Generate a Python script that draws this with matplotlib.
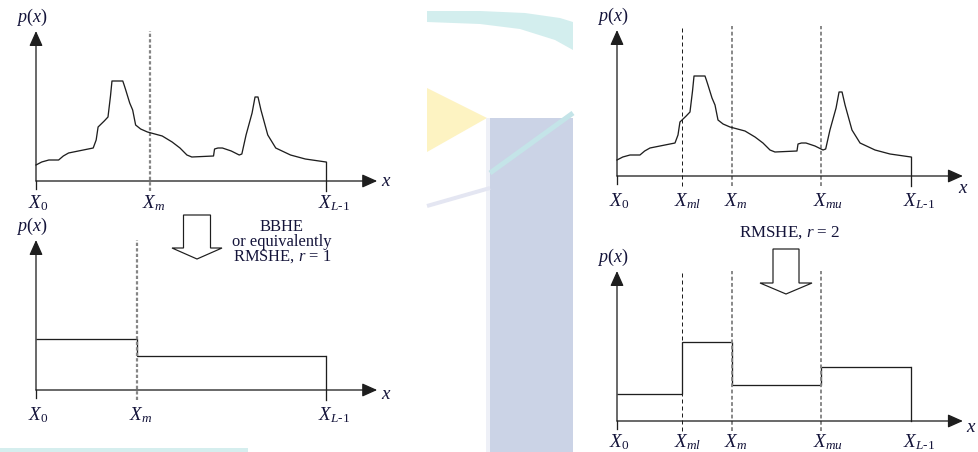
# -*- coding: utf-8 -*-
import numpy as np
import matplotlib
matplotlib.use("Agg")
import matplotlib.pyplot as plt
from matplotlib.patches import Polygon, Rectangle

plt.rcParams['font.family'] = ['Liberation Serif', 'DejaVu Serif']
plt.rcParams['mathtext.fontset'] = 'custom'
plt.rcParams['mathtext.rm'] = 'Liberation Serif'
plt.rcParams['mathtext.it'] = 'Liberation Serif:italic'

# histogram shape (grey level 0..255, height)
hist_x = [0, 5, 11.3, 19.9, 24, 28.6, 41.6, 50.3, 52.9, 54.6, 60, 63.3, 65.5,
          66.8, 76.3, 77.5, 78.9, 82.4, 85.0, 87.6, 92, 98.0, 111.0, 119.7,
          126.6, 132.7, 137.0, 156.1, 157.0, 160, 163.9, 171.7, 178.7, 181,
          184.7, 190.0, 192.6, 195.2, 197.8, 203.8, 210.8, 223.8, 236.8, 255]
hist_p = [16, 19, 21, 21, 25, 28, 31, 33, 41, 54, 60, 64, 85, 100, 100, 96,
          91, 78, 71, 56, 52, 49, 45, 39, 33, 26, 24, 25, 32, 33, 33, 30, 26,
          27, 46, 68, 84, 84, 71, 46, 33, 26, 22, 19]

# split points
x_m = 100
x_ml = 56.4
x_mu = 176.9
x_end = 255

# equalised levels
bbhe_edges = [0, 88.8, 255]
bbhe_levels = [51, 34]
rmshe_edges = [0, x_ml, x_m, x_mu, x_end]
rmshe_levels = [27, 79, 36, 54]

TXT = '#14143a'
LN = '#1e1e1e'
GRAY = '#858585'
W, H = 978, 452

fig = plt.figure(figsize=(W / 72, H / 72), dpi=72)

# faint watermark behind everything
bg = fig.add_axes([0, 0, 1, 1])
bg.set_xlim(0, W)
bg.set_ylim(H, 0)
bg.axis('off')
bg.add_patch(Polygon([(427, 11), (480, 11), (525, 13), (560, 18), (573, 22),
                      (573, 50), (555, 40), (520, 29), (480, 24), (427, 22)],
                     closed=True, fc='#d3eeee', ec='none'))
bg.add_patch(Polygon([(427, 88), (487, 118), (427, 152)], closed=True,
                     fc='#fdf3c2', ec='none'))
bg.add_patch(Rectangle((486, 118), 4, 334, fc='#eef0f7', ec='none'))
bg.add_patch(Rectangle((490, 118), 83, 334, fc='#cbd3e6', ec='none'))
bg.plot([573, 490], [113, 173], color='#c4e4e8', lw=5, solid_capstyle='butt')
bg.plot([427, 490], [206, 188], color='#e4e6f2', lw=4, solid_capstyle='butt')
bg.add_patch(Rectangle((0, 448), 248, 4, fc='#d5eeee', ec='none'))


def panel(x0, y0, wpx, top=150):
    ax = fig.add_axes([x0 / W, (H - y0) / H, wpx / W, 150 / H])
    ax.set_xlim(0, 255)
    ax.set_ylim(0, 150)
    ax.axis('off')
    ax.patch.set_alpha(0)
    ax.plot([0, 0], [-8, 0], color=LN, lw=1.3, clip_on=False)
    for end in [(0, top), (300, 0)]:
        ax.annotate('', xy=end, xytext=(0, 0),
                    arrowprops=dict(arrowstyle='-|>,head_length=0.85,head_width=0.38',
                                    mutation_scale=15, color=LN, lw=1.3,
                                    shrinkA=0, shrinkB=0),
                    annotation_clip=False)
    ax.annotate(r'$p(x)$', xy=(0, top), xytext=(-4, 3), textcoords='offset points',
                ha='center', va='bottom', fontsize=18, color=TXT, annotation_clip=False)
    return ax


def xlabels(ax, pos, names, dy):
    for p, n in zip(pos, names):
        ax.annotate(n, xy=(p, 0), xytext=(-8, dy), textcoords='offset points',
                    ha='left', va='top', fontsize=19, color=TXT, annotation_clip=False)


def xname(ax, dx, dy):
    ax.annotate('x', xy=(300, 0), xytext=(dx, dy), textcoords='offset points',
                ha='left', va='top', fontsize=19, style='italic', color=TXT,
                annotation_clip=False)


def vline(ax, x, col, lw, dash):
    ax.plot([x, x], [-10, 150], color=col, lw=lw, linestyle=(0, dash), clip_on=False)


def hollow_arrow(cx, top, shaft_w, head_w, base, tip):
    pts = [(cx - shaft_w / 2, top), (cx + shaft_w / 2, top), (cx + shaft_w / 2, base),
           (cx + head_w / 2, base), (cx, tip), (cx - head_w / 2, base),
           (cx - shaft_w / 2, base)]
    bg.add_patch(Polygon(pts, closed=True, fc='white', ec=LN, lw=1.2, zorder=3))


X0 = r'$X_{\mathit{0}}$'
XM = r'$X_{\mathit{m}}$'
XL = r'$X_{\mathit{L}\text{-}\mathit{1}}$'
XML = r'$X_{\mathit{ml}}$'
XMU = r'$X_{\mathit{mu}}$'

# top left: original histogram, one split
ax1 = panel(36, 181, 290)
vline(ax1, x_m, GRAY, 2.2, (1.5, 1))
ax1.plot(hist_x, hist_p, color=LN, lw=1.3, clip_on=False)
ax1.plot([x_end, x_end], [-10, hist_p[-1]], color=LN, lw=1.3, clip_on=False)
xlabels(ax1, [0, x_m, x_end], [X0, XM, XL], -12)
xname(ax1, 4, 8)

# bottom left: BBHE result
ax2 = panel(36, 390, 290)
vline(ax2, bbhe_edges[1], GRAY, 2.2, (1.5, 1))
ax2.stairs(bbhe_levels, bbhe_edges, baseline=None, color=LN, lw=1.3, clip_on=False)
ax2.plot([x_end, x_end], [-10, bbhe_levels[-1]], color=LN, lw=1.3, clip_on=False)
xlabels(ax2, bbhe_edges, [X0, XM, XL], -15)
xname(ax2, 4, 4)

# top right: original histogram, r = 2 splits
ax3 = panel(617, 176, 294, top=146)
vline(ax3, x_ml, LN, 1.0, (4, 3))
vline(ax3, x_m, GRAY, 1.9, (2, 1.3))
vline(ax3, x_mu, GRAY, 1.9, (2, 1.3))
ax3.plot(hist_x, hist_p, color=LN, lw=1.3, clip_on=False)
ax3.plot([x_end, x_end], [-10, hist_p[-1]], color=LN, lw=1.3, clip_on=False)
xlabels(ax3, [0, x_ml, x_m, x_mu, x_end], [X0, XML, XM, XMU, XL], -15)
xname(ax3, -5, -4)

# bottom right: RMSHE r = 2 result
ax4 = panel(617, 421, 294)
vline(ax4, x_ml, LN, 1.0, (4, 3))
vline(ax4, x_m, GRAY, 1.9, (2, 1.3))
vline(ax4, x_mu, GRAY, 1.9, (2, 1.3))
ax4.stairs(rmshe_levels, rmshe_edges, baseline=None, color=LN, lw=1.3, clip_on=False)
ax4.plot([x_end, x_end], [0, rmshe_levels[-1]], color=LN, lw=1.3, clip_on=False)
xlabels(ax4, [0, x_ml, x_m, x_mu, x_end], [X0, XML, XM, XMU, XL], -11)
xname(ax4, 3, 2)

# transition arrows and captions
hollow_arrow(197, 215, 27, 50, 248, 259)
hollow_arrow(786, 249, 26, 52, 283, 294)
bg.text(282, 242, 'BBHE\nor equivalently\nRMSHE, $r$ = 1', ha='center', va='center',
        fontsize=16.5, color=TXT, linespacing=0.9)
bg.text(790, 233, 'RMSHE, $r$ = 2', ha='center', va='center', fontsize=17, color=TXT)

fig.savefig('out.png', dpi=72)
